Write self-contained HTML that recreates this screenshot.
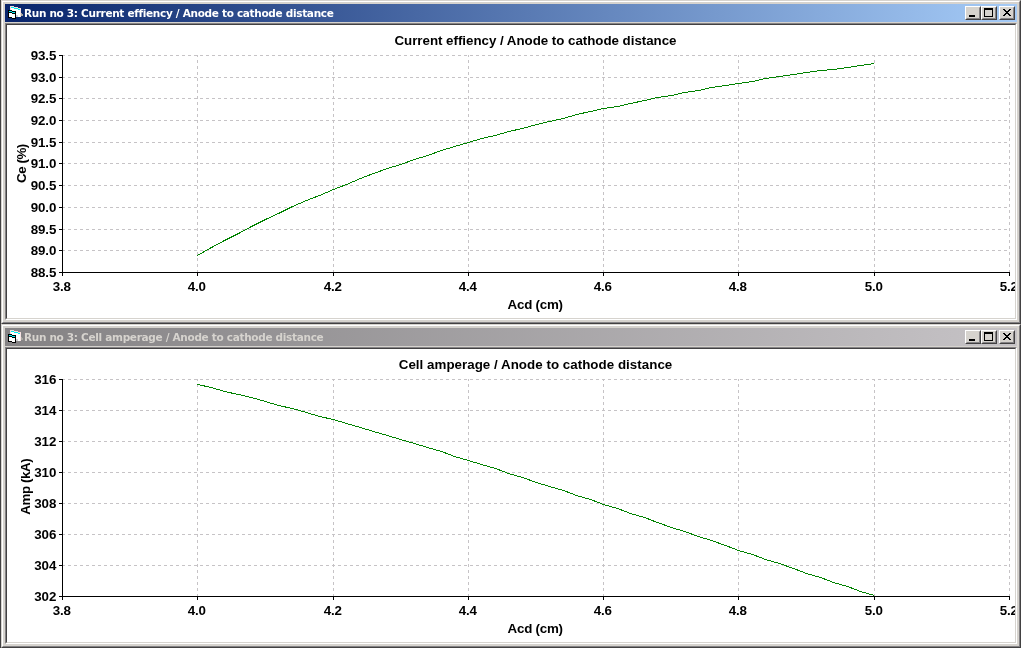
<!DOCTYPE html>
<html><head><meta charset="utf-8"><title>Run no 3</title><style>
html,body{margin:0;padding:0}
body{width:1021px;height:648px;overflow:hidden;background:#d6d3ce;position:relative;font-family:"Liberation Sans",sans-serif}
.edge{position:absolute;left:0;top:0;width:1px;height:648px;background:#424142}
.win{position:absolute;left:1px;width:1020px;height:324px;box-sizing:border-box;border:1px solid;border-color:#d6d3ce #424142 #424142 #d6d3ce;background:#d6d3ce}
.win:before{content:"";position:absolute;left:0;top:0;right:0;bottom:0;border:1px solid;border-color:#fff #848284 #848284 #fff}
.cap{position:absolute;left:3px;top:3px;width:1012px;height:18px}
.ico{position:absolute;left:2px;top:1px}
.ttl{position:absolute;left:19px;top:0;line-height:18px;font:bold 10.5px/18px "DejaVu Sans","Liberation Sans",sans-serif;letter-spacing:-0.31px;white-space:nowrap}
.btn{position:absolute;top:2px;width:16px;height:14px;box-sizing:border-box;background:#d6d3ce;border:1px solid;border-color:#fff #424142 #424142 #fff}
.btn:before{content:"";position:absolute;left:0;top:0;right:0;bottom:0;border:1px solid;border-color:#d6d3ce #848284 #848284 #d6d3ce}
.btn svg{position:absolute;left:1px;top:1px}
.cli{position:absolute;left:3px;top:22px;width:1012px;height:297px;box-sizing:border-box;border:1px solid;border-color:#848284 #fff #fff #848284}
.cli2{position:absolute;left:0;top:0;right:0;bottom:0;border:1px solid;border-color:#424142 #d6d3ce #d6d3ce #424142;background:#fff}
.ch{position:absolute;left:0;top:0}
.lb text{font:bold 13.33px "Liberation Sans",sans-serif;fill:#000}
.lb .tk{letter-spacing:-0.12px}
</style></head>
<body>
<div class="edge"></div>
<div class="win" style="top:0px">
<div class="cap" style="background:linear-gradient(to right,#08246b,#a5cbf7);color:#fff">
<svg class="ico" width="16" height="16" viewBox="0 0 16 16" shape-rendering="crispEdges">
<rect x="3" y="1" width="4" height="11" fill="#fff"/>
<rect x="7" y="2" width="4" height="10" fill="#fff"/>
<rect x="11" y="3" width="3" height="9" fill="#fff"/>
<rect x="3" y="1" width="4" height="1" fill="#f6dcdc"/>
<rect x="3" y="2" width="1" height="4" fill="#f6dcdc"/>
<rect x="7" y="2" width="4" height="1" fill="#f6dcdc"/>
<rect x="11" y="3" width="3" height="1" fill="#f6dcdc"/>
<rect x="13" y="4" width="1" height="8" fill="#f6e4e4"/>
<rect x="4" y="2" width="3" height="1" fill="#00f0f0"/>
<rect x="7" y="3" width="4" height="1" fill="#00f0f0"/>
<rect x="11" y="4" width="2" height="1" fill="#00f0f0"/>
<rect x="14" y="8" width="1" height="3" fill="#a8a8a0"/>
<rect x="15" y="9" width="1" height="2" fill="#a8a8a0"/>
<rect x="9" y="10" width="2" height="2" fill="#d0d0d0"/>
<rect x="1" y="5" width="4" height="8" fill="#000"/>
<rect x="5" y="6" width="4" height="8" fill="#000"/>
<rect x="2" y="6" width="3" height="1" fill="#00f0f0"/>
<rect x="5" y="7" width="3" height="1" fill="#00f0f0"/>
<rect x="2" y="8" width="3" height="4" fill="#fff"/>
<rect x="5" y="9" width="3" height="4" fill="#fff"/>
</svg>
<span class="ttl">Run no 3: Current effiency / Anode to cathode distance</span>
<div class="btn" style="left:960px"><svg width="12" height="10" shape-rendering="crispEdges"><rect x="2" y="7" width="6" height="2" fill="#000"/></svg></div>
<div class="btn" style="left:976px"><svg width="12" height="10" shape-rendering="crispEdges"><rect x="1" y="0" width="9" height="9" fill="#000"/><rect x="2" y="2" width="7" height="6" fill="#d6d3ce"/></svg></div>
<div class="btn" style="left:994px"><svg width="12" height="10" shape-rendering="crispEdges"><path d="M2 1h2v1h1v1h2v-1h1v-1h2v1h-1v1h-1v1h-1v1h1v1h1v1h1v1h-2v-1h-1v-1h-2v1h-1v1h-2v-1h1v-1h1v-1h1v-1h-1v-1h-1v-1h-1z" fill="#000"/></svg></div>
</div>
<div class="cli"><div class="cli2">
<svg class="ch" width="1008" height="293" viewBox="7 25 1008 293">
<g shape-rendering="crispEdges" stroke="#c6c3c6" stroke-width="1" stroke-dasharray="3 3" fill="none">
<path d="M62 55.5H1010"/>
<path d="M62 77.5H1010"/>
<path d="M62 98.5H1010"/>
<path d="M62 120.5H1010"/>
<path d="M62 142.5H1010"/>
<path d="M62 163.5H1010"/>
<path d="M62 185.5H1010"/>
<path d="M62 207.5H1010"/>
<path d="M62 229.5H1010"/>
<path d="M62 250.5H1010"/>
<path d="M197.5 273V55"/>
<path d="M333.5 273V55"/>
<path d="M468.5 273V55"/>
<path d="M603.5 273V55"/>
<path d="M738.5 273V55"/>
<path d="M874.5 273V55"/>
<path d="M1009.5 273V55"/>
</g>
<path d="M197.5 255.5 L211.5 247.5 L224.5 240.5 L238.5 233.5 L251.5 226.5 L265.5 219.5 L278.5 213.5 L292.5 206.5 L306.5 200.5 L319.5 195.5 L333.5 189.5 L346.5 184.5 L360.5 178.5 L373.5 173.5 L387.5 168.5 L400.5 164.5 L414.5 159.5 L427.5 155.5 L441.5 150.5 L454.5 146.5 L468.5 142.5 L481.5 138.5 L495.5 135.5 L508.5 131.5 L522.5 128.5 L536.5 124.5 L549.5 121.5 L563.5 118.5 L576.5 114.5 L590.5 111.5 L603.5 108.5 L617.5 106.5 L630.5 103.5 L644.5 100.5 L657.5 97.5 L671.5 95.5 L684.5 92.5 L698.5 90.5 L711.5 87.5 L725.5 85.5 L738.5 83.5 L752.5 81.5 L765.5 78.5 L779.5 76.5 L793.5 74.5 L806.5 72.5 L820.5 70.5 L833.5 69.5 L847.5 67.5 L860.5 65.5 L874.5 63.5" fill="none" stroke="#008200" stroke-width="1" shape-rendering="crispEdges"/>
<g shape-rendering="crispEdges" fill="#000">
<rect x="62" y="55" width="1" height="218"/>
<rect x="62" y="272" width="948" height="1"/>
<rect x="59" y="55" width="3" height="1"/>
<rect x="59" y="77" width="3" height="1"/>
<rect x="59" y="98" width="3" height="1"/>
<rect x="59" y="120" width="3" height="1"/>
<rect x="59" y="142" width="3" height="1"/>
<rect x="59" y="163" width="3" height="1"/>
<rect x="59" y="185" width="3" height="1"/>
<rect x="59" y="207" width="3" height="1"/>
<rect x="59" y="229" width="3" height="1"/>
<rect x="59" y="250" width="3" height="1"/>
<rect x="59" y="272" width="3" height="1"/>
<rect x="62" y="273" width="1" height="3"/>
<rect x="197" y="273" width="1" height="3"/>
<rect x="333" y="273" width="1" height="3"/>
<rect x="468" y="273" width="1" height="3"/>
<rect x="603" y="273" width="1" height="3"/>
<rect x="738" y="273" width="1" height="3"/>
<rect x="874" y="273" width="1" height="3"/>
<rect x="1009" y="273" width="1" height="3"/>
</g>
<g class="lb">
<text class="tk" x="56.2" y="60" text-anchor="end">93.5</text>
<text class="tk" x="56.2" y="82" text-anchor="end">93.0</text>
<text class="tk" x="56.2" y="103" text-anchor="end">92.5</text>
<text class="tk" x="56.2" y="125" text-anchor="end">92.0</text>
<text class="tk" x="56.2" y="147" text-anchor="end">91.5</text>
<text class="tk" x="56.2" y="168" text-anchor="end">91.0</text>
<text class="tk" x="56.2" y="190" text-anchor="end">90.5</text>
<text class="tk" x="56.2" y="212" text-anchor="end">90.0</text>
<text class="tk" x="56.2" y="234" text-anchor="end">89.5</text>
<text class="tk" x="56.2" y="255" text-anchor="end">89.0</text>
<text class="tk" x="56.2" y="277" text-anchor="end">88.5</text>
<text class="tk" x="61.8" y="291" text-anchor="middle">3.8</text>
<text class="tk" x="196.8" y="291" text-anchor="middle">4.0</text>
<text class="tk" x="332.8" y="291" text-anchor="middle">4.2</text>
<text class="tk" x="467.8" y="291" text-anchor="middle">4.4</text>
<text class="tk" x="602.8" y="291" text-anchor="middle">4.6</text>
<text class="tk" x="737.8" y="291" text-anchor="middle">4.8</text>
<text class="tk" x="873.8" y="291" text-anchor="middle">5.0</text>
<text class="tk" x="1008.8" y="291" text-anchor="middle">5.2</text>
<text x="535.5" y="45" text-anchor="middle" textLength="282" lengthAdjust="spacing">Current effiency / Anode to cathode distance</text>
<text x="535.3" y="309" text-anchor="middle" textLength="55.4" lengthAdjust="spacing">Acd (cm)</text>
<text transform="translate(25.7 163.4) rotate(-90)" text-anchor="middle" textLength="39.3" lengthAdjust="spacing">Ce (%)</text>
</g>
</svg>
</div></div>
</div>
<div class="win" style="top:324px">
<div class="cap" style="background:linear-gradient(to right,#848284,#c6c3c6);color:#d6d3ce">
<svg class="ico" width="16" height="16" viewBox="0 0 16 16" shape-rendering="crispEdges">
<rect x="3" y="1" width="4" height="11" fill="#fff"/>
<rect x="7" y="2" width="4" height="10" fill="#fff"/>
<rect x="11" y="3" width="3" height="9" fill="#fff"/>
<rect x="3" y="1" width="4" height="1" fill="#f6dcdc"/>
<rect x="3" y="2" width="1" height="4" fill="#f6dcdc"/>
<rect x="7" y="2" width="4" height="1" fill="#f6dcdc"/>
<rect x="11" y="3" width="3" height="1" fill="#f6dcdc"/>
<rect x="13" y="4" width="1" height="8" fill="#f6e4e4"/>
<rect x="4" y="2" width="3" height="1" fill="#00f0f0"/>
<rect x="7" y="3" width="4" height="1" fill="#00f0f0"/>
<rect x="11" y="4" width="2" height="1" fill="#00f0f0"/>
<rect x="14" y="8" width="1" height="3" fill="#a8a8a0"/>
<rect x="15" y="9" width="1" height="2" fill="#a8a8a0"/>
<rect x="9" y="10" width="2" height="2" fill="#d0d0d0"/>
<rect x="1" y="5" width="4" height="8" fill="#000"/>
<rect x="5" y="6" width="4" height="8" fill="#000"/>
<rect x="2" y="6" width="3" height="1" fill="#00f0f0"/>
<rect x="5" y="7" width="3" height="1" fill="#00f0f0"/>
<rect x="2" y="8" width="3" height="4" fill="#fff"/>
<rect x="5" y="9" width="3" height="4" fill="#fff"/>
</svg>
<span class="ttl">Run no 3: Cell amperage / Anode to cathode distance</span>
<div class="btn" style="left:960px"><svg width="12" height="10" shape-rendering="crispEdges"><rect x="2" y="7" width="6" height="2" fill="#000"/></svg></div>
<div class="btn" style="left:976px"><svg width="12" height="10" shape-rendering="crispEdges"><rect x="1" y="0" width="9" height="9" fill="#000"/><rect x="2" y="2" width="7" height="6" fill="#d6d3ce"/></svg></div>
<div class="btn" style="left:994px"><svg width="12" height="10" shape-rendering="crispEdges"><path d="M2 1h2v1h1v1h2v-1h1v-1h2v1h-1v1h-1v1h-1v1h1v1h1v1h1v1h-2v-1h-1v-1h-2v1h-1v1h-2v-1h1v-1h1v-1h1v-1h-1v-1h-1v-1h-1z" fill="#000"/></svg></div>
</div>
<div class="cli"><div class="cli2">
<svg class="ch" width="1008" height="293" viewBox="7 349 1008 293">
<g shape-rendering="crispEdges" stroke="#c6c3c6" stroke-width="1" stroke-dasharray="3 3" fill="none">
<path d="M62 379.5H1010"/>
<path d="M62 410.5H1010"/>
<path d="M62 441.5H1010"/>
<path d="M62 472.5H1010"/>
<path d="M62 503.5H1010"/>
<path d="M62 534.5H1010"/>
<path d="M62 565.5H1010"/>
<path d="M197.5 597V379"/>
<path d="M333.5 597V379"/>
<path d="M468.5 597V379"/>
<path d="M603.5 597V379"/>
<path d="M738.5 597V379"/>
<path d="M874.5 597V379"/>
<path d="M1009.5 597V379"/>
</g>
<path d="M197.5 384.5 L211.5 387.5 L224.5 391.5 L238.5 394.5 L251.5 397.5 L265.5 401.5 L278.5 405.5 L292.5 408.5 L306.5 412.5 L319.5 416.5 L333.5 419.5 L346.5 423.5 L360.5 427.5 L373.5 431.5 L387.5 435.5 L400.5 439.5 L414.5 443.5 L427.5 447.5 L441.5 451.5 L454.5 456.5 L468.5 460.5 L481.5 464.5 L495.5 468.5 L508.5 473.5 L522.5 477.5 L536.5 482.5 L549.5 486.5 L563.5 490.5 L576.5 495.5 L590.5 499.5 L603.5 504.5 L617.5 508.5 L630.5 513.5 L644.5 517.5 L657.5 522.5 L671.5 527.5 L684.5 531.5 L698.5 536.5 L711.5 540.5 L725.5 545.5 L738.5 550.5 L752.5 554.5 L765.5 559.5 L779.5 563.5 L793.5 568.5 L806.5 573.5 L820.5 577.5 L833.5 582.5 L847.5 586.5 L860.5 591.5 L874.5 595.5" fill="none" stroke="#008200" stroke-width="1" shape-rendering="crispEdges"/>
<g shape-rendering="crispEdges" fill="#000">
<rect x="62" y="379" width="1" height="218"/>
<rect x="62" y="596" width="948" height="1"/>
<rect x="59" y="379" width="3" height="1"/>
<rect x="59" y="410" width="3" height="1"/>
<rect x="59" y="441" width="3" height="1"/>
<rect x="59" y="472" width="3" height="1"/>
<rect x="59" y="503" width="3" height="1"/>
<rect x="59" y="534" width="3" height="1"/>
<rect x="59" y="565" width="3" height="1"/>
<rect x="59" y="596" width="3" height="1"/>
<rect x="62" y="597" width="1" height="3"/>
<rect x="197" y="597" width="1" height="3"/>
<rect x="333" y="597" width="1" height="3"/>
<rect x="468" y="597" width="1" height="3"/>
<rect x="603" y="597" width="1" height="3"/>
<rect x="738" y="597" width="1" height="3"/>
<rect x="874" y="597" width="1" height="3"/>
<rect x="1009" y="597" width="1" height="3"/>
</g>
<g class="lb">
<text class="tk" x="56.2" y="384" text-anchor="end">316</text>
<text class="tk" x="56.2" y="415" text-anchor="end">314</text>
<text class="tk" x="56.2" y="446" text-anchor="end">312</text>
<text class="tk" x="56.2" y="477" text-anchor="end">310</text>
<text class="tk" x="56.2" y="508" text-anchor="end">308</text>
<text class="tk" x="56.2" y="539" text-anchor="end">306</text>
<text class="tk" x="56.2" y="570" text-anchor="end">304</text>
<text class="tk" x="56.2" y="601" text-anchor="end">302</text>
<text class="tk" x="61.8" y="615" text-anchor="middle">3.8</text>
<text class="tk" x="196.8" y="615" text-anchor="middle">4.0</text>
<text class="tk" x="332.8" y="615" text-anchor="middle">4.2</text>
<text class="tk" x="467.8" y="615" text-anchor="middle">4.4</text>
<text class="tk" x="602.8" y="615" text-anchor="middle">4.6</text>
<text class="tk" x="737.8" y="615" text-anchor="middle">4.8</text>
<text class="tk" x="873.8" y="615" text-anchor="middle">5.0</text>
<text class="tk" x="1008.8" y="615" text-anchor="middle">5.2</text>
<text x="535.5" y="369" text-anchor="middle" textLength="273.5" lengthAdjust="spacing">Cell amperage / Anode to cathode distance</text>
<text x="535.3" y="633" text-anchor="middle" textLength="55.4" lengthAdjust="spacing">Acd (cm)</text>
<text transform="translate(29.7 486.5) rotate(-90)" text-anchor="middle" textLength="56.5" lengthAdjust="spacing">Amp (kA)</text>
</g>
</svg>
</div></div>
</div>
</body></html>
